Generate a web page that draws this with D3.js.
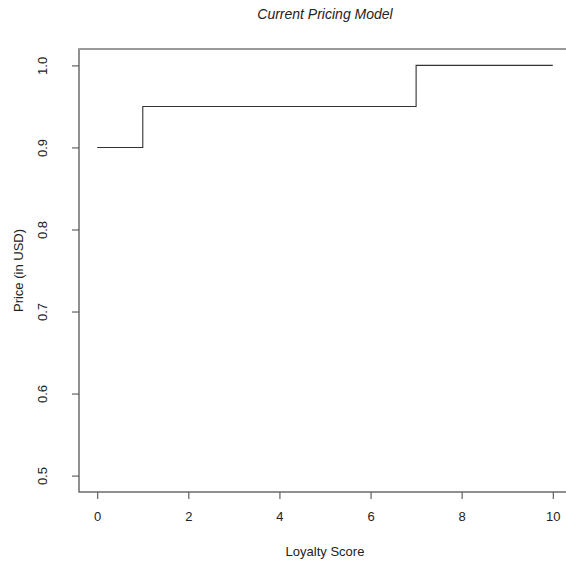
<!DOCTYPE html>
<html>
<head>
<meta charset="utf-8">
<script src="https://cdn.jsdelivr.net/npm/d3@7"></script>
<style>
  body { margin: 0; background: #fff; }
  text { font-family: "Liberation Sans", Arial, sans-serif; fill: #222; }
</style>
</head>
<body>
<div id="chart"></div>
<script>
// step data
var loyalty = [0, 1, 7, 10];
var price = [0.9, 0.95, 1.0, 1.0];
var xTicks = [0, 2, 4, 6, 8, 10];
var yTicks = [0.5, 0.6, 0.7, 0.8, 0.9, 1.0];

var W = 566, H = 565;
var margin = {top: 49, right: -5, bottom: 73, left: 79},
  width = W - margin.left - margin.right,
  height = H - margin.top - margin.bottom;

var svg = d3.select("#chart")
  .append("svg")
    .attr("width", W)
    .attr("height", H)
  .append("g")
    .attr("transform", "translate(" + margin.left + "," + margin.top + ")");

// R style: 4% padding on each side
var x = d3.scaleLinear().domain([-0.4, 10.4]).range([0, width]);
var y = d3.scaleLinear().domain([0.48, 1.02]).range([height, 0]);

// x axis
var xAxis = svg.append("g")
  .attr("transform", "translate(0," + height + ")")
  .call(d3.axisBottom(x).tickValues(xTicks).tickSize(7).tickPadding(13).tickFormat(d3.format("d")));
xAxis.select(".domain").remove();
xAxis.selectAll("line").attr("stroke", "#444");
xAxis.selectAll("text").style("font-size", "13px").attr("fill", "#222");

// y axis (rotated labels like R)
var yAxis = svg.append("g")
  .call(d3.axisLeft(y).tickValues(yTicks).tickSize(7).tickFormat(d3.format(".1f")));
yAxis.select(".domain").remove();
yAxis.selectAll("line").attr("stroke", "#444");
yAxis.selectAll("text")
  .style("font-size", "13px")
  .attr("fill", "#222")
  .attr("text-anchor", "middle")
  .attr("x", 0).attr("dy", 0)
  .attr("transform", "translate(-36,0) rotate(-90)")
  .attr("y", 4);

// plot box
svg.append("rect")
  .attr("x", 0).attr("y", 0)
  .attr("width", width).attr("height", height)
  .attr("fill", "none")
  .attr("stroke", "#555")
  .attr("stroke-width", 1.3);
svg.append("line")
  .attr("x1", 0).attr("x2", width).attr("y1", 0).attr("y2", 0)
  .attr("stroke", "#999").attr("stroke-width", 2);

// step line
var pts = loyalty.map(function(d, i) { return [d, price[i]]; });
svg.append("path")
  .datum(pts)
  .attr("fill", "none")
  .attr("stroke", "#333")
  .attr("stroke-width", 1.1)
  .attr("d", d3.line().x(function(d) { return x(d[0]); }).y(function(d) { return y(d[1]); }).curve(d3.curveStepAfter));

// title
svg.append("text")
  .attr("x", x(5)).attr("y", -30)
  .attr("text-anchor", "middle")
  .style("font-size", "14px")
  .style("font-style", "italic")
  .text("Current Pricing Model");

// axis titles
svg.append("text")
  .attr("x", x(5)).attr("y", height + 64)
  .attr("text-anchor", "middle")
  .style("font-size", "13px")
  .text("Loyalty Score");

svg.append("text")
  .attr("transform", "translate(" + (-56) + "," + y(0.75) + ") rotate(-90)")
  .attr("text-anchor", "middle")
  .style("font-size", "13px")
  .text("Price (in USD)");
</script>
</body>
</html>
